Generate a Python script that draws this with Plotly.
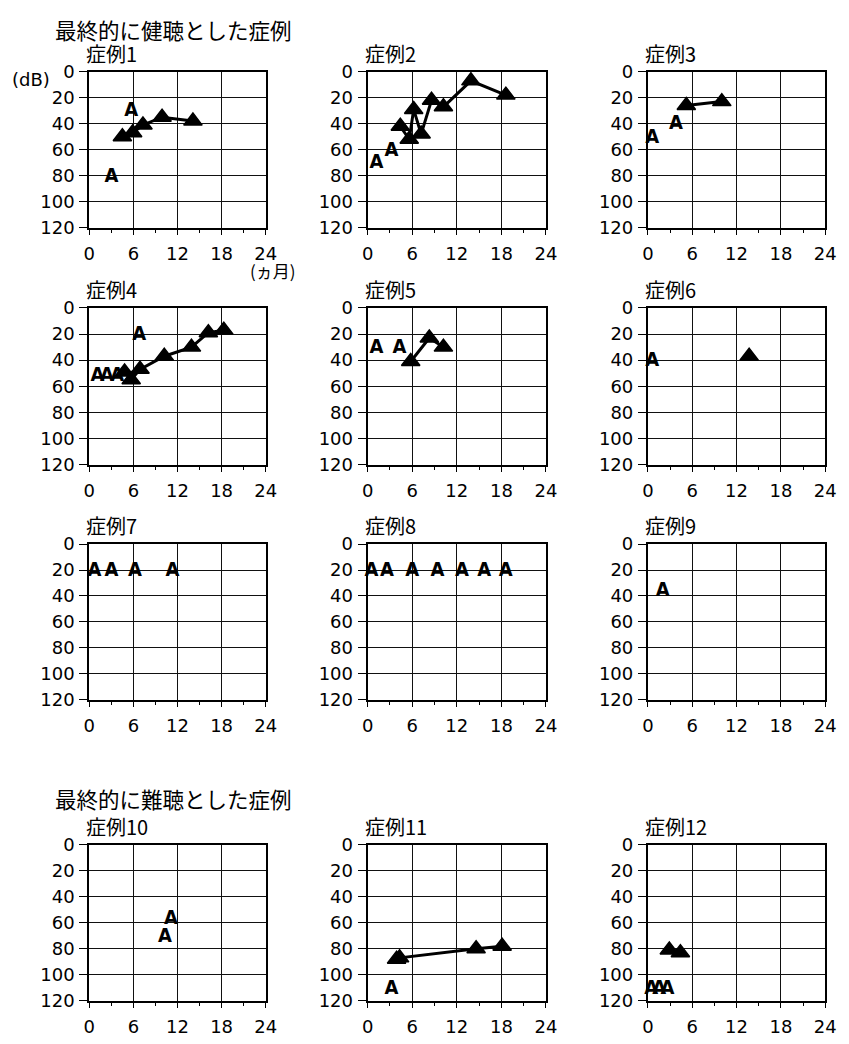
import plotly.graph_objects as go

W, H = 849, 1044

# ---- data: months of age (x) vs. threshold in dB (y) ----
# ▲ = measured thresholds (connected), A = "A" response markers
case1_tri_x = [4.5, 5.9, 7.3, 9.9, 14.1]
case1_tri_y = [50, 47, 41, 35, 38]
case1_a_x = [5.7, 3.0]
case1_a_y = [30, 81]

case2_tri_x = [4.4, 5.6, 6.2, 7.2, 8.6, 10.2, 13.9, 18.6]
case2_tri_y = [42, 52, 29, 48, 22, 27, 7, 18]
case2_a_x = [1.2, 3.2]
case2_a_y = [70, 61]

case3_tri_x = [5.2, 10.0]
case3_tri_y = [26, 23]
case3_a_x = [0.6, 3.8]
case3_a_y = [51, 40]

case4_tri_x = [4.8, 5.7, 6.9, 10.2, 13.9, 16.2, 18.3]
case4_tri_y = [49, 55, 47, 37, 30, 19, 17]
case4_a_x = [1.1, 2.4, 3.8, 6.8]
case4_a_y = [52, 52, 52, 21]

case5_tri_x = [5.8, 8.3, 10.2]
case5_tri_y = [41, 23, 30]
case5_a_x = [1.2, 4.3]
case5_a_y = [31, 31]

case6_tri_x = [13.7]
case6_tri_y = [37]
case6_a_x = [0.6]
case6_a_y = [41]

case7_tri_x = []
case7_tri_y = []
case7_a_x = [0.7, 3.0, 6.2, 11.3]
case7_a_y = [21, 21, 21, 21]

case8_tri_x = []
case8_tri_y = []
case8_a_x = [0.5, 2.6, 6.0, 9.4, 12.7, 15.7, 18.6]
case8_a_y = [21, 21, 21, 21, 21, 21, 21]

case9_tri_x = []
case9_tri_y = []
case9_a_x = [2.0]
case9_a_y = [36]

case10_tri_x = []
case10_tri_y = []
case10_a_x = [11.1, 10.3]
case10_a_y = [57, 71]

case11_tri_x = [3.9, 4.3, 14.6, 18.1]
case11_tri_y = [88, 87, 80, 78]
case11_a_x = [3.2]
case11_a_y = [111]

case12_tri_x = [2.9, 4.4]
case12_tri_y = [81, 83]
case12_a_x = [0.45, 1.55, 2.65]
case12_a_y = [111, 111, 111]

case_titles = ["症例1", "症例2", "症例3", "症例4", "症例5", "症例6",
               "症例7", "症例8", "症例9", "症例10", "症例11", "症例12"]
tri_x = [case1_tri_x, case2_tri_x, case3_tri_x, case4_tri_x, case5_tri_x, case6_tri_x,
         case7_tri_x, case8_tri_x, case9_tri_x, case10_tri_x, case11_tri_x, case12_tri_x]
tri_y = [case1_tri_y, case2_tri_y, case3_tri_y, case4_tri_y, case5_tri_y, case6_tri_y,
         case7_tri_y, case8_tri_y, case9_tri_y, case10_tri_y, case11_tri_y, case12_tri_y]
a_x = [case1_a_x, case2_a_x, case3_a_x, case4_a_x, case5_a_x, case6_a_x,
       case7_a_x, case8_a_x, case9_a_x, case10_a_x, case11_a_x, case12_a_x]
a_y = [case1_a_y, case2_a_y, case3_a_y, case4_a_y, case5_a_y, case6_a_y,
       case7_a_y, case8_a_y, case9_a_y, case10_a_y, case11_a_y, case12_a_y]

x_ticks = [0, 6, 12, 18, 24]
y_ticks = [0, 20, 40, 60, 80, 100, 120]

header_good = "最終的に健聴とした症例"
header_poor = "最終的に難聴とした症例"
y_unit = "(dB)"
x_unit = "(ヵ月)"

# ---- panel geometry (pixels) ----
col_px = [(85, 265), (369, 551), (655, 836)]
row_px = [(62, 221), (303, 463), (544, 703), (851, 1010)]

TICK_FONT = dict(family="DejaVu Sans", size=18, color="black")
CJK = "Noto Sans CJK JP"
A_FONT = dict(family="Liberation Sans Narrow, DejaVu Sans Condensed, sans-serif",
              size=20, color="black", weight="bold")

fig = go.Figure()
annotations = []

for i in range(12):
    r, c = divmod(i, 3)
    sfx = "" if i == 0 else str(i + 1)
    x0, x1 = col_px[c]
    y0, y1 = row_px[r]
    fig.update_layout(**{
        f"xaxis{sfx}": dict(
            domain=[x0 / W, x1 / W], anchor=f"y{sfx}", range=[0, 24],
            tickvals=x_ticks, ticktext=[str(v) for v in x_ticks],
            ticks="outside", ticklen=5, tickwidth=1, tickcolor="black",
            ticklabelstandoff=4,
            minor=dict(tickvals=[3, 9, 15, 21], ticks="outside", ticklen=3,
                       tickcolor="black", showgrid=False),
            showgrid=True, gridcolor="#111", gridwidth=1,
            showline=True, linecolor="black", linewidth=2, mirror=True,
            zeroline=False, tickfont=TICK_FONT, fixedrange=True,
        ),
        f"yaxis{sfx}": dict(
            domain=[1 - y1 / H, 1 - y0 / H], anchor=f"x{sfx}", range=[120, 0],
            tickvals=y_ticks, ticktext=[str(v) for v in y_ticks],
            ticks="outside", ticklen=8, tickwidth=1, tickcolor="black",
            ticklabelstandoff=1,
            showgrid=True, gridcolor="#111", gridwidth=1,
            showline=True, linecolor="black", linewidth=2, mirror=True,
            zeroline=False, tickfont=TICK_FONT, fixedrange=True,
        ),
    })
    xa, ya = f"x{sfx}", f"y{sfx}"
    if tri_x[i]:
        fig.add_trace(go.Scatter(
            x=tri_x[i], y=tri_y[i], xaxis=xa, yaxis=ya, mode="lines+markers",
            line=dict(color="black", width=3),
            marker=dict(symbol="triangle-up", size=16, color="black",
                        line=dict(color="black", width=1.5)),
            cliponaxis=False, showlegend=False, hoverinfo="skip",
        ))
    if a_x[i]:
        fig.add_trace(go.Scatter(
            x=a_x[i], y=a_y[i], xaxis=xa, yaxis=ya, mode="text",
            text=["A"] * len(a_x[i]), textposition="middle center",
            textfont=A_FONT, cliponaxis=False, showlegend=False, hoverinfo="skip",
        ))
    annotations.append(dict(
        text=case_titles[i], xref="paper", yref="paper",
        x=(x0 - 2) / W, y=1 - y0 / H, xanchor="left", yanchor="bottom",
        xshift=-3, yshift=2,
        showarrow=False, font=dict(family=CJK, size=20, color="black"),
    ))

annotations += [
    dict(text=header_good, xref="paper", yref="paper", x=48 / W, y=1 - 19 / H,
         xanchor="left", yanchor="middle", showarrow=False,
         font=dict(family=CJK, size=21.5, color="black")),
    dict(text=header_poor, xref="paper", yref="paper", x=48 / W, y=1 - 804 / H,
         xanchor="left", yanchor="middle", showarrow=False,
         font=dict(family=CJK, size=21.5, color="black")),
    dict(text=y_unit, xref="paper", yref="paper", x=26 / W, y=1 - 70 / H,
         xanchor="center", yanchor="middle", showarrow=False, font=TICK_FONT),
    dict(text=x_unit, xref="paper", yref="paper", x=272 / W, y=1 - 265 / H,
         xanchor="center", yanchor="middle", showarrow=False,
         font=dict(family=CJK, size=17, color="black")),
]

fig.update_layout(
    width=W, height=H, margin=dict(l=0, r=0, t=0, b=0),
    paper_bgcolor="white", plot_bgcolor="white",
    annotations=annotations, showlegend=False,
)

# page body without default margin so the figure fills the window exactly
fig.write_html("out.html", config={"displayModeBar": False},
               post_script="document.body.style.margin='0';")
